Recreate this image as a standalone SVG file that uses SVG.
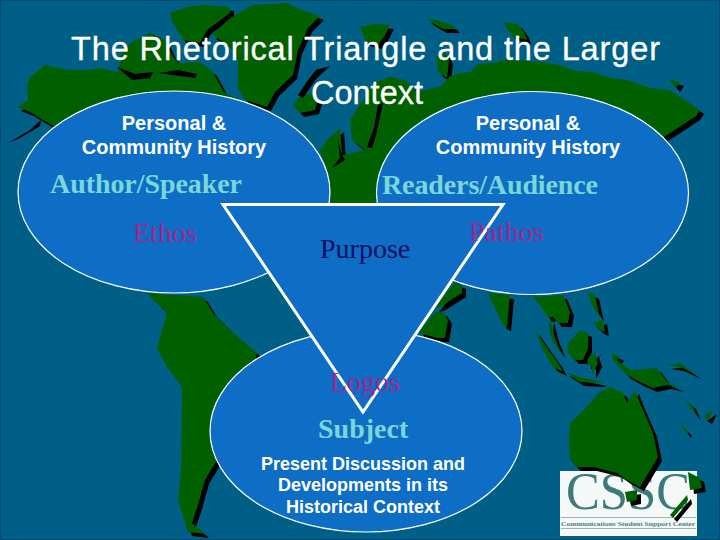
<svg xmlns="http://www.w3.org/2000/svg" xmlns:xlink="http://www.w3.org/1999/xlink" width="720" height="540" viewBox="0 0 720 540">
<style>
.oval{fill:#0e6ec6;stroke:#fff;stroke-width:1.2}
.sans{font-family:"Liberation Sans",Arial,sans-serif;fill:#fff;text-anchor:middle}
.hist{font-size:20px;font-weight:700}
.title{font-size:32.5px;stroke:#fff;stroke-width:.3}
.ser{font-family:"Liberation Serif","Times New Roman",serif;font-size:28px}
.role{fill:#7ad6d8;font-weight:700}
.appeal{fill:#a2278c}
</style>
<defs>
<g id="land">
<path d="M17 107L28 100L27 88L29 78L45 65L58 68L70 70L88 70L100 68L118 72L122 50L135 40L150 33L165 40L172 55L178 63L200 62L213 72L220 85L224 92L240 100L240 130L120 140L60 130L38 117L30 112Z"/>
<path d="M170 13L187 7L205 5L230 7L230 13L207 30L200 43L183 40L173 23Z"/>
<path d="M228 20L238 13L253 5L287 3L297 8L320 16L308 28L298 50L293 75L275 92L267 107L245 100L238 88L238 60L228 45L212 35Z"/>
<path d="M293 105L300 96L312 93L318 100L315 110L300 113Z"/>
<path d="M329 210L329 178L320 150L327 140L340 128L342 155L348 154L365 150L352 140L350 120L358 108L373 83L390 77L405 80L417 92L433 88L440 87L450 76L460 73L470 72L478 64L493 63L505 60L520 60L540 62L560 65L575 71L593 72L610 78L627 80L650 88L670 90L685 100L700 110L696 116L684 124L664 137L560 190L400 215L340 215Z"/>
<path d="M360 27L375 24L390 25L385 35L378 45L366 42Z"/>
<path d="M427 19L437 20L452 25L456 29L443 29L434 24Z"/>
<path d="M503 22L518 24L525 34L527 40L512 36Z"/>
<path d="M436 57L445 52L449 60L447 78L438 72Z"/>
<path d="M668 79L680 82L676 88Z"/>
<path d="M147 293L203 297L213 313L230 330L257 353L240 420L217 460L205 480L198 505L192 523L205 534L188 532L178 500L181 470L182 387L167 367L157 348L163 327L167 313Z"/>
<path d="M455 282L462 285L462 293L440 307L435 308Z"/>
<path d="M418 333L435 312L443 312L448 320L445 338L438 338Z"/>
<path d="M488 293L510 295L507 327L503 325Z"/>
<path d="M533 297L563 295L570 312L568 323L558 323L553 317L548 318L540 305Z"/>
<path d="M550 318L555 338L562 355L553 342L549 328Z"/>
<path d="M535 330L543 342L558 363L563 372L553 367L543 350Z"/>
<path d="M565 372L583 378L603 382L600 383L580 382Z"/>
<path d="M567 345L580 330L588 333L588 348L583 360L575 360L568 353Z"/>
<path d="M588 358L602 347L595 353L598 363L592 375L592 365L587 365Z"/>
<path d="M588 292L595 295L600 318L592 305Z"/>
<path d="M593 323L603 320L605 332L600 330Z"/>
<path d="M612 353L620 357L617 360L630 370L657 368L667 382L680 388L667 385L653 388L640 382L627 375L613 360Z"/>
<path d="M667 365L680 363L697 375L680 367Z"/>
<path d="M570 423L578 416L590 403L600 392L610 387L623 393L627 403L635 390L640 403L653 433L658 457L640 487L627 480L617 473L593 467L577 467L570 460L569 440Z"/>
<path d="M625 492L637 490L637 500L627 502Z"/>
<path d="M688 472L700 478L702 488L690 490Z"/>
<path d="M687 495L688 500L673 518L670 515Z"/>
<path d="M685 400L692 405L697 417Z"/>
<path d="M703 417L713 410L708 420Z"/>
<path d="M678 422L688 432L687 434Z"/>
</g>
</defs>
<rect id="bg" x=".5" y=".5" width="719" height="539" fill="#005f86" stroke="#004a70"/>
<g id="logo">
<rect x="560" y="471" width="137" height="65" fill="#f4f8f7"/>
<text x="628" y="508.500" text-anchor="middle" font-family="Liberation Serif,serif" font-size="52" fill="#3d7a7c" textLength="124" lengthAdjust="spacingAndGlyphs">CSSC</text>
<rect x="561" y="517" width="135" height="1" fill="#9ab8b8"/>
<rect x="561" y="528" width="135" height="1" fill="#9ab8b8"/>
<text x="628" y="526" text-anchor="middle" font-family="Liberation Serif,serif" font-size="6.500" font-weight="700" fill="#4d7f82" textLength="134" lengthAdjust="spacingAndGlyphs">Communications Student Support Center</text>
</g>
<g id="map">
<use xlink:href="#land" href="#land" transform="translate(4,4)" fill="#000"/>
<use xlink:href="#land" href="#land" fill="#006000"/>
<path d="M378 105L383 103L376 135L372 148L367 147L374 128ZM8 143L30 130L41 120L40 126L20 138ZM117 67L135 74L153 72L150 78L132 80ZM159 73L180 76L195 78L197 74L178 70ZM338 140L342 155L345 160L332 168L340 158ZM298 95L308 80L316 70L330 66L317 78L303 98Z" fill="#000"/>
</g>
<g id="author"><ellipse class="oval" cx="174" cy="192" rx="156" ry="101"/>
<text class="sans hist" x="174" y="130">Personal &amp;</text><text class="sans hist" x="174" y="154">Community History</text>
<text class="ser role" x="50" y="193" textLength="192">Author/Speaker</text>
<text class="ser appeal" x="133" y="242">Ethos</text></g>
<g id="audience"><ellipse class="oval" cx="532.500" cy="193" rx="156" ry="101.500"/>
<text class="sans hist" x="528" y="130">Personal &amp;</text><text class="sans hist" x="528" y="154">Community History</text></g>
<g id="subject"><ellipse class="oval" cx="366" cy="431" rx="156" ry="101"/></g>
<g id="connectors"><path d="M223 204.500H503L363 412Z" fill="#0e6ec6" stroke="#fff" stroke-width="3"/></g>
<g id="labels">
<text class="ser role" x="382" y="194" textLength="216">Readers/Audience</text>
<text class="ser appeal" x="469" y="241">Pathos</text>
<text class="ser" x="320" y="258" fill="#0a0f60">Purpose</text>
<text class="ser appeal" x="330" y="391">Logos</text>
<text class="ser role" x="318" y="438">Subject</text>
<text class="sans" font-size="18" font-weight="700" x="363" y="470">Present Discussion and</text>
<text class="sans" font-size="18" font-weight="700" x="363" y="491">Developments in its</text>
<text class="sans" font-size="18" font-weight="700" x="363" y="513">Historical Context</text>
</g>
<g id="title"><text class="sans title" x="365.500" y="60" textLength="589">The Rhetorical Triangle and the Larger</text><text class="sans title" x="367" y="104">Context</text></g>
</svg>
